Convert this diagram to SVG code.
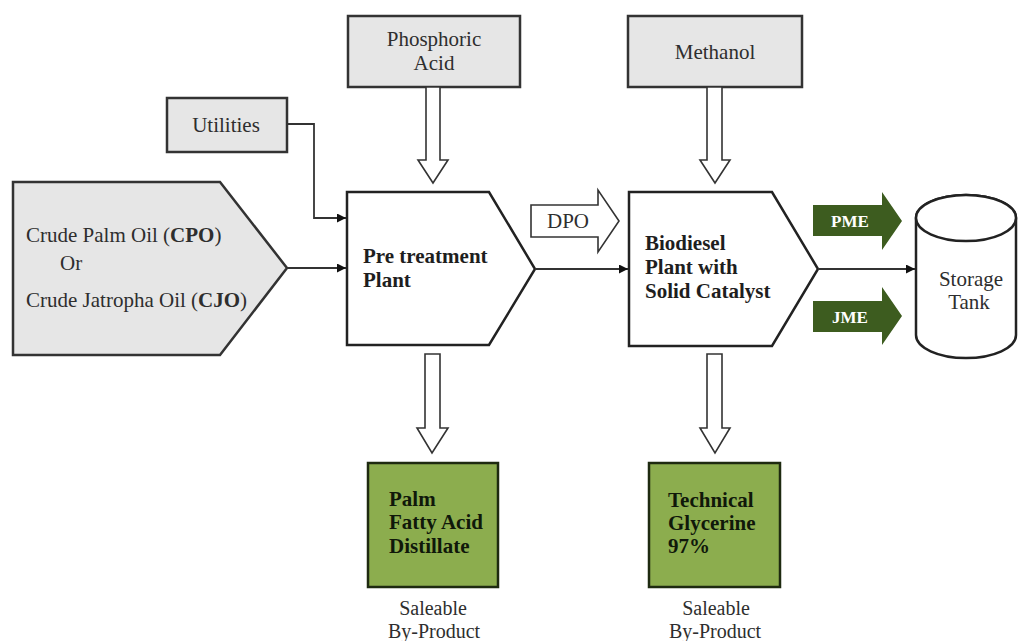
<svg xmlns="http://www.w3.org/2000/svg" width="1018" height="641" viewBox="0 0 1018 641">
  <style>
    text { font-family: "Liberation Serif", "Times New Roman", Tinos, "Noto Serif", "DejaVu Serif", FreeSerif, serif; fill: #2e2e2e; }
    .lbl { font-size: 21px; }
    .sub { font-size: 20px; }
    .bold { font-size: 21px; font-weight: bold; fill: #1e1e1e; }
    .grey { fill: #e6e6e6; stroke: #333; stroke-width: 2.5; }
    .plant { fill: #ffffff; stroke: #222; stroke-width: 2.5; }
    .green { fill: #8cad4e; stroke: #1e2a10; stroke-width: 2.5; }
    .hollow { fill: #ffffff; stroke: #333; stroke-width: 1.6; }
    .dark { fill: #3d5c1f; stroke: none; }
    .wtxt { font-size: 17px; font-weight: bold; fill: #ffffff; }
    .gtxt { font-size: 21px; font-weight: bold; fill: #10180a; }
    .line { fill: none; stroke: #333; stroke-width: 1.8; }
  </style>
  <defs>
    <marker id="arrow" viewBox="0 0 10 10" refX="10" refY="5" markerWidth="9" markerHeight="9" markerUnits="userSpaceOnUse" orient="auto">
      <path d="M0,0 L10,5 L0,10 z" fill="#111"/>
    </marker>
  </defs>

  <rect width="1018" height="641" fill="#ffffff"/>

  <!-- Feedstock -->
  <g id="feedstock">
    <polygon class="grey" points="13,182 220,182 287,268 220,355 13,355"/>
    <text class="lbl" x="26" y="242">Crude Palm Oil (<tspan font-weight="bold">CPO</tspan>)</text>
    <text class="lbl" x="60" y="270">Or</text>
    <text class="lbl" x="26" y="307">Crude Jatropha Oil (<tspan font-weight="bold">CJO</tspan>)</text>
  </g>

  <!-- Utilities -->
  <g id="utilities">
    <rect class="grey" x="167" y="98" width="120" height="54"/>
    <text class="lbl" x="226" y="132" text-anchor="middle">Utilities</text>
  </g>

  <!-- Phosphoric acid -->
  <g id="phosphoric-acid">
    <rect class="grey" x="348" y="16" width="172" height="71"/>
    <text class="lbl" x="434" y="46" text-anchor="middle">Phosphoric</text>
    <text class="lbl" x="434" y="70" text-anchor="middle">Acid</text>
  </g>

  <!-- Methanol -->
  <g id="methanol">
    <rect class="grey" x="628" y="16" width="174" height="71"/>
    <text class="lbl" x="715" y="59" text-anchor="middle">Methanol</text>
  </g>

  <!-- Pre-treatment plant -->
  <g id="pretreatment">
    <polygon class="plant" points="347,192 489,192 535,269 489,345 347,345"/>
    <text class="bold" x="363" y="263">Pre treatment</text>
    <text class="bold" x="363" y="287">Plant</text>
  </g>

  <!-- Biodiesel plant -->
  <g id="biodiesel">
    <polygon class="plant" points="629,192 772,192 818,269 772,346 629,346"/>
    <text class="bold" x="645" y="250">Biodiesel</text>
    <text class="bold" x="645" y="274">Plant with</text>
    <text class="bold" x="645" y="298">Solid Catalyst</text>
  </g>

  <!-- Storage tank -->
  <g id="storage-tank">
    <path class="plant" d="M916,218 L916,335 A50,23 0 0 0 1016,335 L1016,218 A50,23 0 0 0 916,218 Z"/>
    <ellipse class="plant" cx="966" cy="218" rx="50" ry="23"/>
    <text class="lbl" x="971" y="286" text-anchor="middle">Storage</text>
    <text class="lbl" x="969" y="309" text-anchor="middle">Tank</text>
  </g>

  <!-- By-products -->
  <g id="palm-fatty-acid">
    <rect class="green" x="368" y="463" width="130" height="124"/>
    <text class="gtxt" x="389" y="506">Palm</text>
    <text class="gtxt" x="389" y="529">Fatty Acid</text>
    <text class="gtxt" x="389" y="553">Distillate</text>
    <text class="sub" x="433" y="615" text-anchor="middle">Saleable</text>
    <text class="sub" x="434" y="638" text-anchor="middle">By-Product</text>
  </g>

  <g id="glycerine">
    <rect class="green" x="649" y="463" width="131" height="124"/>
    <text class="gtxt" x="668" y="507">Technical</text>
    <text class="gtxt" x="668" y="530">Glycerine</text>
    <text class="gtxt" x="668" y="553">97%</text>
    <text class="sub" x="716" y="615" text-anchor="middle">Saleable</text>
    <text class="sub" x="715" y="638" text-anchor="middle">By-Product</text>
  </g>

  <!-- Product arrows -->
  <g id="pme">
    <polygon class="dark" points="813,205 882,205 882,192 902,221 882,250 882,236 813,236"/>
    <text class="wtxt" x="850" y="227" text-anchor="middle">PME</text>
  </g>
  <g id="jme">
    <polygon class="dark" points="813,301 882,301 882,287 902,316 882,345 882,332 813,332"/>
    <text class="wtxt" x="850" y="323" text-anchor="middle">JME</text>
  </g>

  <g id="dpo">
    <polygon class="hollow" points="531,205 598,205 598,190 619,221 598,252 598,237 531,237"/>
    <text class="lbl" x="568" y="228" text-anchor="middle">DPO</text>
  </g>

  <!-- Connectors -->
  <g id="connectors">
    <path class="line" d="M287,268 L346,268" marker-end="url(#arrow)"/>
    <path class="line" d="M287,124 L314,124 L314,218 L346,218" marker-end="url(#arrow)"/>
    <path class="line" d="M535,269 L628,269" marker-end="url(#arrow)"/>
    <path class="line" d="M818,269 L915,269" marker-end="url(#arrow)"/>
    <!-- hollow feed arrows -->
    <polygon class="hollow" points="426,87 440,87 440,160 448,160 433,183 418,160 426,160"/>
    <polygon class="hollow" points="707,87 722,87 722,160 730,160 715,183 700,160 707,160"/>
    <polygon class="hollow" points="425,354 440,354 440,428 448,428 432,453 417,428 425,428"/>
    <polygon class="hollow" points="707,354 722,354 722,428 730,428 715,453 700,428 707,428"/>
  </g>
</svg>
